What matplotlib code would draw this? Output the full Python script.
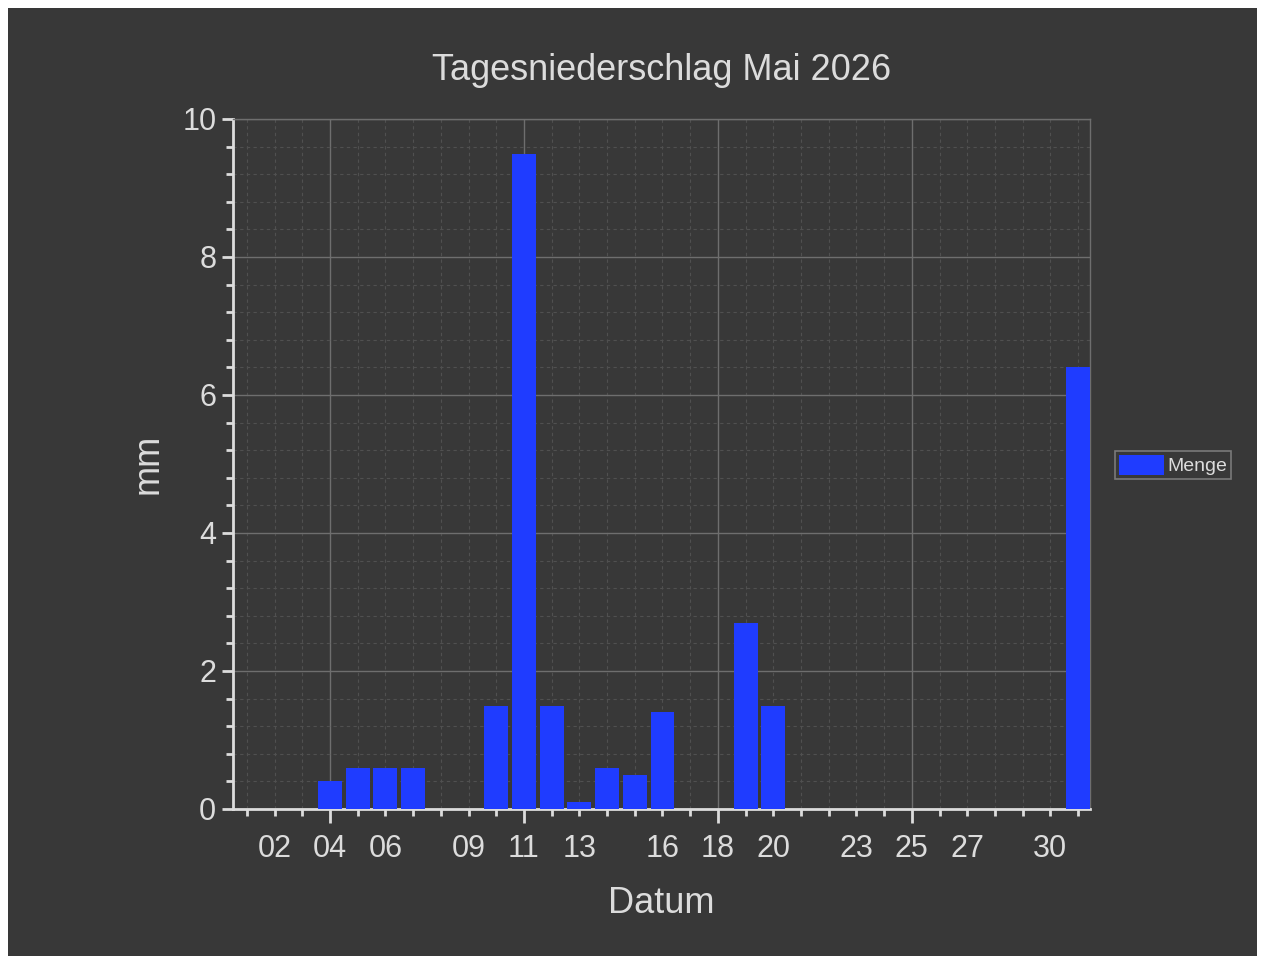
import matplotlib
matplotlib.use('Agg')
import matplotlib.pyplot as plt
from matplotlib.patches import Rectangle
from matplotlib.ticker import MultipleLocator, FixedLocator, FuncFormatter

plt.rcParams['font.family'] = ['Liberation Sans', 'DejaVu Sans']

# data
days = [1, 2, 3, 4, 5, 6, 7, 8, 9, 10, 11, 12, 13, 14, 15, 16,
        17, 18, 19, 20, 21, 22, 23, 24, 25, 26, 27, 28, 29, 30, 31]
menge = [0, 0, 0, 0.4, 0.6, 0.6, 0.6, 0, 0, 1.5, 9.5, 1.5, 0.1, 0.6, 0.5, 1.4,
         0, 0, 2.7, 1.5, 0, 0, 0, 0, 0, 0, 0, 0, 0, 0, 6.4]
major_days = [4, 11, 18, 25]
label_days = [2, 4, 6, 9, 11, 13, 16, 18, 20, 23, 25, 27, 30]

bg = '#383838'
fg = '#dcdcdc'

fig = plt.figure(figsize=(12.65, 9.64), dpi=100, facecolor='white')
fig.patches.append(Rectangle((8/1265, 8/964), 1249/1265, 948/964,
                             transform=fig.transFigure, facecolor=bg,
                             edgecolor='none', zorder=-10))

ax = fig.add_axes([233/1265, 1-809/964, 857/1265, 690/964])
ax.set_facecolor(bg)

ax.bar(days, menge, width=0.86, color='#1f3cff', label='Menge', zorder=3)

ax.set_xlim(0.5, 31.43)
ax.set_ylim(0, 10)

ax.xaxis.set_major_locator(FixedLocator(major_days))
ax.xaxis.set_minor_locator(FixedLocator(days))
ax.xaxis.set_major_formatter(FuncFormatter(lambda v, p: '%02d' % int(round(v))))
ax.xaxis.set_minor_formatter(FuncFormatter(
    lambda v, p: '%02d' % int(round(v)) if int(round(v)) in label_days and int(round(v)) not in major_days else ''))
ax.yaxis.set_major_locator(MultipleLocator(2))
ax.yaxis.set_minor_locator(MultipleLocator(0.4))

ax.grid(which='major', color='#6e6e6e', linewidth=1.0, zorder=0)
ax.grid(which='minor', color='#505050', linewidth=0.8, linestyle=(0, (3, 3)), zorder=0)
ax.set_axisbelow(True)

for s in ['top', 'right']:
    ax.spines[s].set_color('#6e6e6e')
    ax.spines[s].set_linewidth(1.0)
for s in ['left', 'bottom']:
    ax.spines[s].set_color(fg)
    ax.spines[s].set_linewidth(2.0)

ax.tick_params(which='major', direction='out', length=10, width=2, color=fg,
               labelcolor=fg, labelsize=22, pad=8)
ax.tick_params(which='minor', direction='out', length=5, width=2, color=fg,
               labelcolor=fg, labelsize=22, pad=13)
ax.tick_params(axis='y', which='major', length=8, pad=4)
ax.tick_params(axis='y', which='minor', length=5)

ax.set_title('Tagesniederschlag Mai 2026', color=fg, fontsize=26, pad=28)
ax.set_xlabel('Datum', color=fg, fontsize=26, labelpad=16)
ax.set_ylabel('mm', color=fg, fontsize=26, labelpad=12)

leg = fig.legend(loc='center left', bbox_to_anchor=(1115/1265, 1-465/964),
                 fontsize=14, frameon=True, facecolor=bg, edgecolor='#8a8a8a',
                 labelcolor=fg, fancybox=False, handlelength=2.3, handleheight=1.2,
                 borderpad=0.2, handletextpad=0.2, borderaxespad=0)
leg.get_frame().set_linewidth(1.2)

fig.savefig('out.png', dpi=100, facecolor=fig.get_facecolor())
